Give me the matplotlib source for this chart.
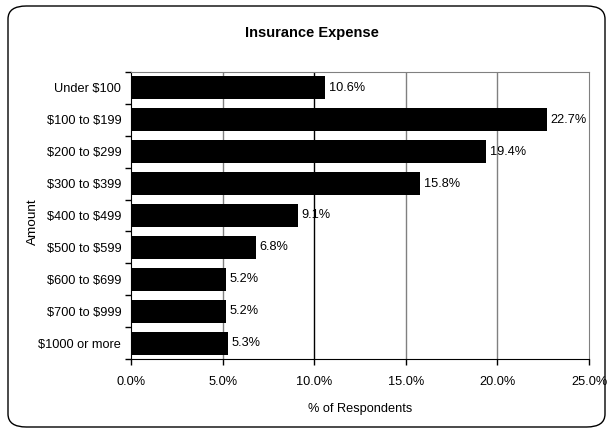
import matplotlib
matplotlib.use("Agg")
import matplotlib.pyplot as plt
from matplotlib.patches import FancyBboxPatch
from matplotlib.ticker import FixedLocator, FuncFormatter

categories = ["Under $100", "$100 to $199", "$200 to $299", "$300 to $399",
              "$400 to $499", "$500 to $599", "$600 to $699", "$700 to $999",
              "$1000 or more"]
values = [10.6, 22.7, 19.4, 15.8, 9.1, 6.8, 5.2, 5.2, 5.3]
xticks = [0, 5, 10, 15, 20, 25]

plt.rcParams['font.family'] = ['Liberation Sans', 'DejaVu Sans']
FS = 9.2

fig = plt.figure(figsize=(6.13, 4.33), dpi=100)
fig.patch.set_facecolor("white")

# rounded border
border = FancyBboxPatch((8/613, 6/433), (597)/613, (421)/433,
                        boxstyle="round,pad=0,rounding_size=0.03",
                        transform=fig.transFigure, fill=False,
                        edgecolor="black", linewidth=1.0)
fig.patches.append(border)

ax = fig.add_axes([131/613, 1-359.3/433, (589-131)/613, (359.3-71.7)/433])
n = len(categories)
ypos = list(range(n))
ax.barh(ypos, values, height=0.72, color="black", zorder=3)
ax.set_ylim(n-0.5, -0.5)
ax.set_xlim(0, 25)

for g in [5, 15, 20]:
    ax.axvline(g, color="#808080", linewidth=1.0, zorder=1)
ax.axvline(10, color="black", linewidth=1.0, zorder=1)

for y, v in zip(ypos, values):
    ax.text(v + 0.2, y, f"{v:.1f}%", va="center", ha="left", fontsize=FS, zorder=4)

ax.set_yticks(ypos)
ax.set_yticklabels([c.replace("$", r"\$") for c in categories], fontsize=FS)
ax.yaxis.set_minor_locator(FixedLocator([i + 0.5 for i in range(-1, n)]))
ax.tick_params(axis="y", which="major", length=0, pad=7)
ax.tick_params(axis="y", which="minor", length=4, direction="out", width=1)

ax.xaxis.set_major_locator(FixedLocator(xticks))
ax.xaxis.set_major_formatter(FuncFormatter(lambda v, p: f"{v:.1f}%"))
ax.tick_params(axis="x", length=4, direction="out", labelsize=FS, pad=8, width=1)

for s in ["top", "right"]:
    ax.spines[s].set_color("#808080")
for s in ["left", "bottom"]:
    ax.spines[s].set_color("black")

ax.set_xlabel("% of Respondents", fontsize=FS, labelpad=11)
ax.set_ylabel("Amount", fontsize=FS + 0.5)
ax.yaxis.set_label_coords(-0.2, 0.48)

fig.text(312/613, 1-33/433, "Insurance Expense", ha="center", va="center",
         fontsize=10.5, fontweight="bold")

fig.savefig("out.png", dpi=100)
